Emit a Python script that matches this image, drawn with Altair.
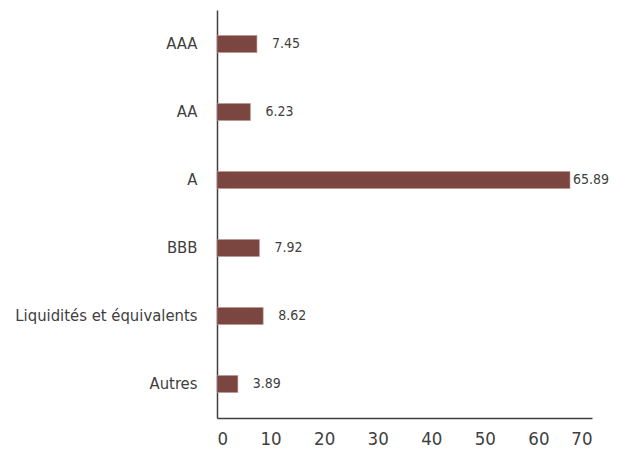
import altair as alt
import pandas as pd

categories = ["AAA", "AA", "A", "BBB", "Liquidités et équivalents", "Autres"]
values = [7.45, 6.23, 65.89, 7.92, 8.62, 3.89]
x_ticks = [0, 10, 20, 30, 40, 50, 60, 70]

df = pd.DataFrame({"cat": categories, "val": values})
df["lbl"] = df["val"].map(lambda v: f"{v:.2f}")

FONT = "Liberation Sans Narrow, DejaVu Sans Condensed, Roboto"

y = alt.Y("cat:N", sort=categories, title=None,
          scale=alt.Scale(paddingInner=0.75, paddingOuter=0.375),
          axis=alt.Axis(ticks=False, labelPadding=20, labelFontSize=16.5, labelLimit=400,
                        labelFont=FONT, labelColor="#404040",
                        domainColor="#404040", domainWidth=1.5))
x = alt.X("val:Q", title=None,
          scale=alt.Scale(domain=[0, 70], nice=False),
          axis=alt.Axis(values=x_ticks, ticks=False, grid=False, labelPadding=11,
                        labelFontSize=18.5, labelFont=FONT, labelColor="#404040",
                        domainColor="#404040", domainWidth=1.5))

bars = alt.Chart(df).mark_bar(color="#7b4540", stroke="#b89490", strokeWidth=0.6).encode(x=x, y=y)

text_small = alt.Chart(df).transform_filter("datum.val < 50").mark_text(
    align="left", baseline="middle", dx=15, fontSize=14, font=FONT, color="#404040"
).encode(x="val:Q", y=alt.Y("cat:N", sort=categories), text="lbl:N")

text_big = alt.Chart(df).transform_filter("datum.val >= 50").mark_text(
    align="left", baseline="middle", dx=3, fontSize=14, font=FONT, color="#404040"
).encode(x="val:Q", y=alt.Y("cat:N", sort=categories), text="lbl:N")

chart = alt.layer(bars, text_small, text_big).properties(
    width=375, height=408,
    autosize=alt.AutoSizeParams(type="none"),
    padding={"left": 209, "top": 2, "right": 20, "bottom": 40},
).configure_view(stroke=None)

chart.save("out.html", embed_options={"renderer": "svg", "actions": False})
